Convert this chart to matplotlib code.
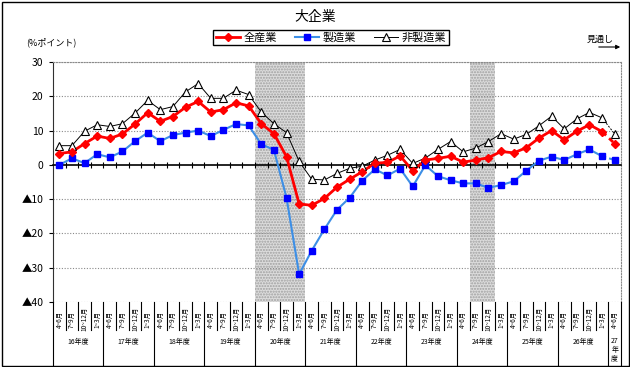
# BSI chart for large enterprises: all industries / manufacturing / non-manufacturing,
# quarterly from FY16 to the FY27 Apr-Jun outlook. Shaded bands mark the downturns.

import matplotlib
matplotlib.use("Agg")
import matplotlib.pyplot as plt
import matplotlib.transforms as mtransforms
import numpy as np
from matplotlib.lines import Line2D
from matplotlib.patches import Rectangle

plt.rcParams["font.family"] = ["Noto Sans CJK JP", "DejaVu Sans"]

TITLE = "大企業"
UNIT = "(%ポイント)"
OUTLOOK = "見通し"

quarter_labels = ["4~6月", "7~9月", "10~12月", "1~3月"]
fiscal_years = ["16年度", "17年度", "18年度", "19年度", "20年度", "21年度",
                "22年度", "23年度", "24年度", "25年度", "26年度"]
last_year = "27\n年\n度"  # only Apr-Jun (outlook)

series_names = ["全産業", "製造業", "非製造業"]

all_industries = [
    3.3, 3.8, 6.2, 8.4, 7.7, 9.0, 11.9, 15.2, 12.7, 14.1, 16.8, 18.5,
    15.4, 16.1, 18.1, 17.2, 12.0, 9.1, 2.4, -11.4, -11.8, -9.8, -6.5, -4.2,
    -2.0, 0.5, 0.7, 2.6, -1.7, 1.4, 1.9, 2.5, 0.8, 1.4, 2.1, 3.9,
    3.5, 5.0, 7.8, 10.0, 7.3, 9.8, 11.7, 9.7, 6.2,
]
manufacturing = [
    0.0, 1.9, 0.5, 3.1, 2.2, 3.9, 6.9, 9.4, 6.9, 8.7, 9.4, 10.0,
    8.4, 10.2, 11.9, 11.5, 6.0, 4.4, -9.6, -31.9, -25.0, -18.8, -13.1, -9.6,
    -4.6, -1.3, -3.1, -1.1, -6.3, -0.1, -3.3, -4.5, -5.4, -5.4, -6.7, -5.9,
    -4.8, -1.7, 1.2, 2.4, 1.4, 3.1, 4.5, 2.5, 1.4,
]
non_manufacturing = [
    5.6, 5.6, 9.8, 11.7, 11.2, 12.0, 15.1, 18.8, 16.1, 17.0, 21.3, 23.7,
    19.4, 19.4, 21.8, 20.5, 15.4, 12.0, 9.4, 1.0, -4.2, -4.4, -2.5, -1.0,
    -0.4, 1.4, 2.8, 4.5, 0.4, 2.0, 4.5, 6.8, 3.8, 4.9, 6.8, 9.1,
    7.5, 8.9, 11.4, 14.2, 10.5, 13.4, 15.3, 13.7, 9.0,
]

# shaded quarters, first and last index (inclusive)
shaded = [(16, 19), (33, 34)]

y_ticks = [30, 20, 10, 0, -10, -20, -30, -40]
y_labels = ["30", "20", "10", "0", "▲10", "▲20", "▲30", "▲40"]

W, H = 630, 367


def fy(py):
    # pixel row -> figure fraction
    return 1 - py / H


fig = plt.figure(figsize=(W / 100, H / 100), dpi=100)
ax = fig.add_axes([53 / W, fy(302), 568 / W, 240 / H])

n = len(all_industries)
x = np.arange(n)

for a, b in shaded:
    ax.axvspan(a - 0.5, b + 0.5, facecolor="#dcdcdc", hatch="......",
               edgecolor="#a0a0a0", linewidth=0, zorder=0)

for y in y_ticks:
    if y != 0:
        ax.axhline(y, color="#8a8a8a", lw=0.8, linestyle=(0, (1, 1.5)), zorder=1)

styles = [
    (non_manufacturing, dict(color="black", lw=0.7),
     dict(marker="^", ms=6, mfc="white", mec="black", mew=0.8)),
    (manufacturing, dict(color="#3d8fe6", lw=1.5),
     dict(marker="s", ms=4, mfc="#0000ff", mec="#0000ff")),
    (all_industries, dict(color="#ff0000", lw=2.0),
     dict(marker="D", ms=4, mfc="#ff0000", mec="#ff0000")),
]

handles = {}
for vals, line_kw, mark_kw in styles:
    vals = np.asarray(vals)
    ax.plot(x[:-1], vals[:-1], zorder=3, **line_kw)
    ax.plot(x[-2:], vals[-2:], linestyle=(0, (2, 1.5)), zorder=3, **line_kw)
    ax.plot(x, vals, linestyle="none", zorder=4, **mark_kw)

handles = [
    Line2D([], [], **styles[2][1], **styles[2][2]),
    Line2D([], [], **styles[1][1], **styles[1][2]),
    Line2D([], [], **styles[0][1], **styles[0][2]),
]

ax.set_xlim(-0.5, n - 0.5)
ax.set_ylim(-40, 30)

# category axis sits on the zero line
ax.spines["bottom"].set_position(("data", 0))
ax.spines["bottom"].set_linewidth(1.2)
ax.set_xticks(np.arange(1, n) - 0.5)
ax.tick_params(axis="x", direction="inout", length=5, width=0.8, labelbottom=False)

ax.set_yticks(y_ticks)
ax.set_yticklabels(y_labels)
ax.tick_params(axis="y", direction="out", length=3, width=0.8, labelsize=7.5, pad=4)

ax.spines["left"].set_color("#303030")
for side in ["top", "right"]:
    ax.spines[side].set_color("#8a8a8a")
    ax.spines[side].set_linestyle((0, (1, 1.5)))
    ax.spines[side].set_linewidth(0.8)

# category labels under the plot
trans = mtransforms.blended_transform_factory(ax.transData, fig.transFigure)
for i in range(n + 1):
    edge = i - 0.5
    long_line = i % 4 == 0 or i == n
    y_end = 0 if long_line else fy(330)
    fig.add_artist(Line2D([edge, edge], [fy(302), y_end], transform=trans,
                          color="black", lw=0.8))

for i in range(n):
    ax.text(i, fy(319), quarter_labels[i % 4], transform=trans, rotation=90,
            ha="center", va="center", fontsize=4.6)

for k, year in enumerate(fiscal_years):
    ax.text(4 * k + 1.5, fy(342), year, transform=trans,
            ha="center", va="center", fontsize=5)
ax.text(n - 1, fy(350), last_year, transform=trans, ha="center", va="center",
        fontsize=5, linespacing=1.1)

fig.text(0.5, fy(17), TITLE, ha="center", va="center", fontsize=10)
fig.text(51 / W, fy(42), UNIT, ha="center", va="center", fontsize=6.5)
fig.text(600 / W, fy(39), OUTLOOK, ha="center", va="center", fontsize=6.5)
ax.annotate("", xy=(623 / W, fy(47)), xytext=(596 / W, fy(47)),
            xycoords="figure fraction",
            arrowprops=dict(arrowstyle="-|>", color="black", lw=0.8,
                            mutation_scale=6))

fig.legend(handles, series_names, loc="center", bbox_to_anchor=(331 / W, fy(37.5)),
           ncol=3, frameon=True, fancybox=False, edgecolor="black", framealpha=1,
           fontsize=8, handlelength=2.2, handletextpad=0.3, columnspacing=1.6,
           borderpad=0.25)

fig.add_artist(Rectangle((1.5 / W, 1.5 / H), (W - 3) / W, (H - 3) / H,
                         transform=fig.transFigure, fill=False,
                         edgecolor="black", lw=1))

fig.savefig("out.png", dpi=100)
